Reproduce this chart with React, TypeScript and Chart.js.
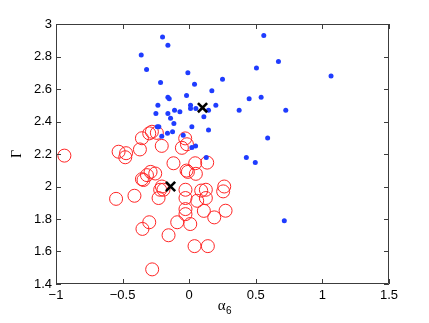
import React, { useEffect, useRef } from 'react';
import { Chart, registerables } from 'chart.js';

Chart.register(...registerables);

// Blue dots (alpha_6, Gamma)
const blueX = [-0.2, -0.16, -0.36, -0.32, -0.01, 0.25, -0.215, 0.04, 0.17, -0.02, -0.16, -0.15, 0.45, -0.235, 0.01, 0.2, 0.01, 0.05, -0.11, -0.07, 0.145, 0.375, -0.25, -0.16, 0.11, -0.14, -0.115, -0.24, -0.228, 0.02, 0.145, -0.163, -0.125, -0.206, -0.045, 0.02, 0.048, 0.128, 0.56, 0.67, 0.505, 1.065, 0.54, 0.725, 0.589, 0.429, 0.496, 0.714];
const blueY = [2.92, 2.87, 2.81, 2.72, 2.70, 2.66, 2.64, 2.63, 2.59, 2.56, 2.55, 2.54, 2.54, 2.50, 2.50, 2.50, 2.48, 2.48, 2.47, 2.46, 2.47, 2.47, 2.45, 2.45, 2.43, 2.42, 2.388, 2.367, 2.367, 2.367, 2.347, 2.327, 2.337, 2.31, 2.316, 2.24, 2.25, 2.178, 2.93, 2.77, 2.73, 2.68, 2.55, 2.47, 2.298, 2.178, 2.147, 1.79];

// Red open circles
const redX = [-0.937, -0.53, -0.474, -0.48, -0.37, -0.355, -0.3, -0.28, -0.243, -0.206, -0.03, -0.017, -0.055, -0.118, 0.045, 0.135, -0.02, -0.01, 0.05, -0.29, -0.255, -0.317, -0.355, -0.343, -0.205, -0.218, -0.193, -0.23, -0.549, -0.411, -0.3, -0.351, -0.155, -0.09, 0.008, -0.028, -0.028, -0.028, -0.028, 0.06, 0.09, 0.125, 0.125, 0.263, 0.255, 0.11, 0.188, 0.273, 0.04, 0.14, -0.278];
const redY = [2.19, 2.214, 2.205, 2.18, 2.228, 2.297, 2.327, 2.337, 2.33, 2.25, 2.296, 2.26, 2.238, 2.143, 2.143, 2.147, 2.098, 2.09, 2.078, 2.09, 2.08, 2.07, 2.045, 2.04, 2.0, 1.98, 1.98, 1.929, 1.924, 1.943, 1.78, 1.739, 1.70, 1.78, 1.769, 1.98, 1.929, 1.861, 1.83, 1.912, 1.975, 1.98, 1.929, 2.0, 1.97, 1.85, 1.81, 1.851, 1.633, 1.633, 1.49];

// Group means (black crosses)
const meanX = [0.1, -0.14];
const meanY = [2.485, 2.0];

const xTicks = [-1, -0.5, 0, 0.5, 1, 1.5];
const yTicks = [1.4, 1.6, 1.8, 2, 2.2, 2.4, 2.6, 2.8, 3];

const toPts = (xs: number[], ys: number[]) => xs.map((x, i) => ({ x, y: ys[i] }));
const fmt = (v: number) => {
  const s = String(Number(v.toFixed(2)));
  return v < 0 ? '\u2212' + s.slice(1) : s;
};

const FONT = '"Liberation Sans", Arial, Helvetica, sans-serif';
const SERIF = '"Liberation Serif", "DejaVu Serif", serif';

const framePlugin = {
  id: 'matlabFrame',
  afterDraw(chart: any) {
    const { ctx, chartArea: a, scales } = chart;
    ctx.save();
    ctx.strokeStyle = '#3c3c3c';
    ctx.lineWidth = 1;
    ctx.beginPath();
    ctx.rect(Math.round(a.left) + 0.5, Math.round(a.top) + 0.5, Math.round(a.right - a.left) - 1, Math.round(a.bottom - a.top) - 1);
    ctx.stroke();
    const tl = 5;
    ctx.beginPath();
    xTicks.forEach((v) => {
      const px = Math.round(scales.x.getPixelForValue(v)) + 0.5;
      ctx.moveTo(px, a.bottom);
      ctx.lineTo(px, a.bottom - tl);
      ctx.moveTo(px, a.top);
      ctx.lineTo(px, a.top + tl);
    });
    yTicks.forEach((v) => {
      const py = Math.round(scales.y.getPixelForValue(v)) + 0.5;
      ctx.moveTo(a.left, py);
      ctx.lineTo(a.left + tl, py);
      ctx.moveTo(a.right, py);
      ctx.lineTo(a.right - tl, py);
    });
    ctx.stroke();

    // axis titles
    ctx.fillStyle = '#000';
    ctx.textBaseline = 'alphabetic';
    const cx = (a.left + a.right) / 2 + 3;
    ctx.font = `15px ${SERIF}`;
    ctx.textAlign = 'right';
    ctx.fillText('\u03b1', cx, 310);
    ctx.font = `10px ${FONT}`;
    ctx.textAlign = 'left';
    ctx.fillText('6', cx + 0.5, 314);

    ctx.save();
    ctx.translate(21, (a.top + a.bottom) / 2);
    ctx.rotate(-Math.PI / 2);
    ctx.font = `14px ${SERIF}`;
    ctx.textAlign = 'center';
    ctx.fillText('\u0393', 0, 0);
    ctx.restore();
    ctx.restore();
  },
};

export default function App() {
  const ref = useRef<HTMLCanvasElement | null>(null);
  useEffect(() => {
    document.body.style.margin = '0';
    const canvas = ref.current;
    if (!canvas) return;
    const chart = new Chart(canvas, {
      type: 'scatter',
      data: {
        datasets: [
          {
            label: 'mean',
            data: toPts(meanX, meanY),
            pointStyle: 'crossRot',
            pointRadius: 6.5,
            borderWidth: 2.6,
            borderColor: '#000',
            backgroundColor: '#000',
          },
          {
            label: 'blue',
            data: toPts(blueX, blueY),
            pointStyle: 'circle',
            pointRadius: 2.5,
            borderWidth: 0,
            backgroundColor: '#1f3cff',
            borderColor: '#1f3cff',
          },
          {
            label: 'red',
            data: toPts(redX, redY),
            pointStyle: 'circle',
            pointRadius: 6.5,
            borderWidth: 1,
            borderColor: '#ff2525',
            backgroundColor: 'rgba(0,0,0,0)',
          },
        ],
      },
      options: {
        animation: false,
        responsive: false,
        maintainAspectRatio: false,
        layout: { padding: { top: 24, right: 40, left: 0, bottom: 0 } },
        plugins: { legend: { display: false }, tooltip: { enabled: false } },
        scales: {
          x: {
            type: 'linear',
            min: -1,
            max: 1.5,
            afterBuildTicks: (s: any) => {
              s.ticks = xTicks.map((v) => ({ value: v }));
            },
            afterFit: (s: any) => {
              s.height = 39;
            },
            grid: { display: false, drawTicks: false },
            border: { display: false },
            ticks: {
              padding: 4,
              color: '#000',
              font: { family: FONT, size: 13 },
              maxRotation: 0,
              autoSkip: false,
              callback: (v: any) => fmt(Number(v)),
            },
          },
          y: {
            type: 'linear',
            min: 1.4,
            max: 3,
            afterBuildTicks: (s: any) => {
              s.ticks = yTicks.map((v) => ({ value: v }));
            },
            afterFit: (s: any) => {
              s.width = 56;
            },
            grid: { display: false, drawTicks: false },
            border: { display: false },
            ticks: {
              padding: 4,
              color: '#000',
              font: { family: FONT, size: 13 },
              autoSkip: false,
              callback: (v: any) => fmt(Number(v)),
            },
          },
        },
      },
      plugins: [framePlugin],
    });
    return () => chart.destroy();
  }, []);
  return <canvas ref={ref} width={429} height={323} style={{ display: 'block', width: 429, height: 323 }} />;
}
